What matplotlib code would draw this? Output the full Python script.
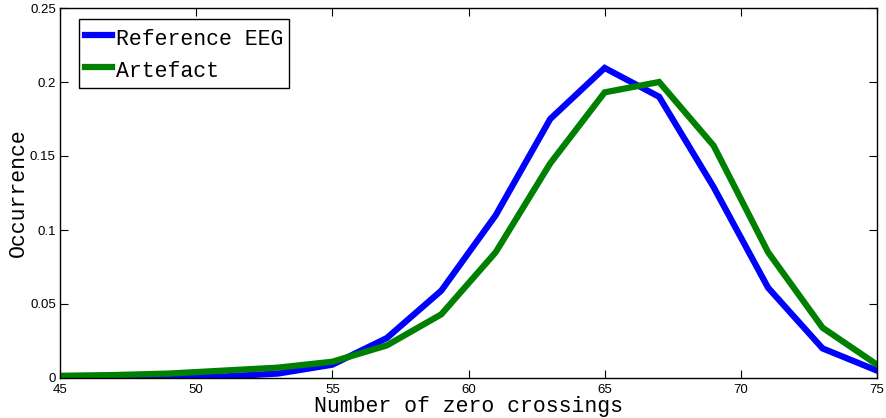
import numpy as np
import matplotlib.pyplot as plt

# number of zero crossings (bin centres)
crossings = [45, 47, 49, 51, 53, 55, 57, 59, 61, 63, 65, 67, 69, 71, 73, 75]

# occurrence
reference_eeg = [0.001, 0.0008, 0.0008, 0.001, 0.003, 0.009, 0.027, 0.059, 0.110, 0.175,
                 0.2095, 0.190, 0.129, 0.061, 0.020, 0.005]
artefact = [0.0015, 0.002, 0.003, 0.005, 0.007, 0.011, 0.022, 0.043, 0.085, 0.145,
            0.193, 0.200, 0.157, 0.085, 0.034, 0.009]

mono = ['Liberation Mono', 'DejaVu Sans Mono']
sans = ['Liberation Sans', 'DejaVu Sans']

fig = plt.figure(figsize=(8.87, 4.18), dpi=100)
ax = fig.add_axes([60 / 887, 40 / 418, 817 / 887, 370 / 418])

ax.plot(crossings, reference_eeg, color='#0000ff', lw=4.5, label='Reference EEG',
        solid_joinstyle='miter')
ax.plot(crossings, artefact, color='#008000', lw=4.5, label='Artefact',
        solid_joinstyle='miter')

ax.set_xlim(45, 75)
ax.set_ylim(0, 0.25)
ax.set_xticks([45, 50, 55, 60, 65, 70, 75])
ax.set_yticks([0, 0.05, 0.1, 0.15, 0.2, 0.25])
ax.set_yticklabels(['0', '0.05', '0.1', '0.15', '0.2', '0.25'])

ax.tick_params(direction='in', top=True, right=True, length=6, width=0.8,
               labelsize=9.5)
ax.tick_params(axis='x', pad=4)
ax.tick_params(axis='y', pad=3)
for lbl in ax.get_xticklabels() + ax.get_yticklabels():
    lbl.set_family(sans)
for sp in ax.spines.values():
    sp.set_linewidth(1.0)

ax.set_xlabel('Number of zero crossings', family=mono, fontsize=15.5, labelpad=0)
ax.set_ylabel('Occurrence', family=mono, fontsize=15.5, labelpad=1)

leg = ax.legend(loc='upper left', bbox_to_anchor=(19 / 817, 1 - 11 / 370),
                prop={'family': mono, 'size': 15.5}, handlelength=1.25,
                handleheight=1.35, handletextpad=0.15, borderpad=0.3,
                labelspacing=0.35, borderaxespad=0, fancybox=False,
                framealpha=1)
leg.get_frame().set_edgecolor('black')
leg.get_frame().set_linewidth(1.0)

fig.savefig('out.png', dpi=100)
